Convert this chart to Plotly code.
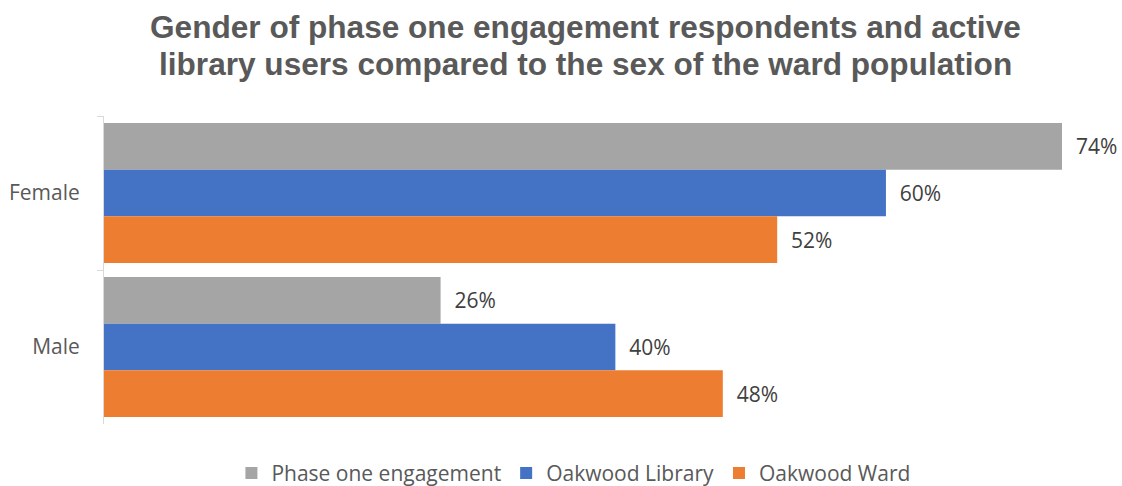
import plotly.graph_objects as go

categories = ["Female", "Male"]
series_names = ["Phase one engagement", "Oakwood Library", "Oakwood Ward"]
phase_one = [74.0, 26.0]
library = [60.4, 39.5]
ward = [52.0, 47.8]
labels_phase = ["74%", "26%"]
labels_library = ["60%", "40%"]
labels_ward = ["52%", "48%"]
colors = ["#A5A5A5", "#4472C4", "#ED7D31"]
title_lines = ["Gender of phase one engagement respondents and active",
               "library users compared to the sex of the ward population"]

NB = "\u00a0\u00a0"
fig = go.Figure()
for name, vals, labs, col in zip(series_names, [phase_one, library, ward],
                                 [labels_phase, labels_library, labels_ward], colors):
    fig.add_trace(go.Bar(
        y=categories, x=vals, name=name, orientation="h",
        marker=dict(color=col, line=dict(width=0)),
        text=[NB + l for l in labs], textposition="outside",
        textfont=dict(family="Open Sans", size=21, color="#404040"),
        cliponaxis=False,
    ))

H_PLOT = 486 - 116 - 62
for line, ypix in zip(title_lines, [27, 64]):
    fig.add_annotation(
        text=line, xref="paper", yref="paper",
        x=(585 - 104) / 958, y=(424 - ypix) / H_PLOT,
        xanchor="center", yanchor="middle", showarrow=False,
        font=dict(family="Liberation Sans", size=31.6, color="#595959", weight="bold"),
    )

fig.update_layout(
    width=1122, height=486,
    paper_bgcolor="white", plot_bgcolor="white",
    barmode="group", bargap=0.09, bargroupgap=0,
    margin=dict(l=104, r=60, t=116, b=62, autoexpand=False),
    xaxis=dict(range=[0, 74], showgrid=False, zeroline=False, showline=False,
               showticklabels=False, ticks="", automargin=False),
    yaxis=dict(autorange="reversed", showline=True, linecolor="#D9D9D9", linewidth=1,
               ticks="outside", tickson="boundaries", ticklen=6, tickcolor="#D9D9D9",
               tickfont=dict(family="Open Sans", size=21, color="#595959"),
               ticklabelstandoff=19, showgrid=False, automargin=False),
    legend=dict(orientation="h", x=0.49, xanchor="center", y=-0.16, yanchor="middle",
                font=dict(family="Open Sans", size=21, color="#595959"),
                itemwidth=30, traceorder="normal"),
    showlegend=True,
)

fig.write_html("out.html", config={"displayModeBar": False},
               post_script="document.body.style.margin='0px';")
